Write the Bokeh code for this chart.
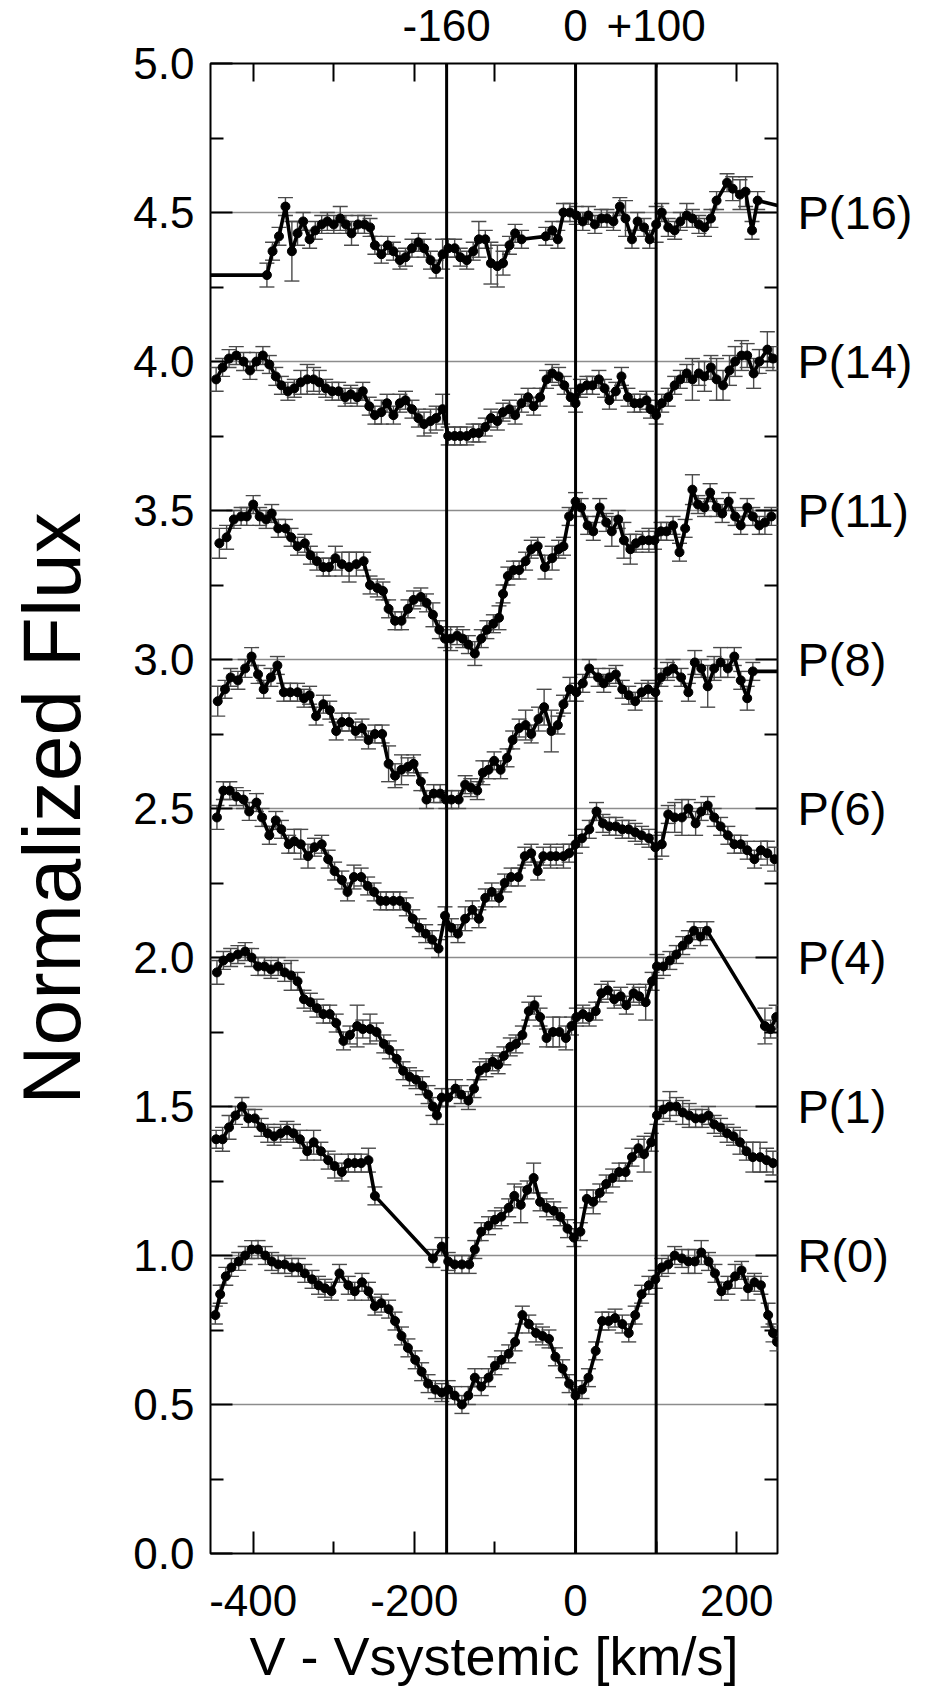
from bokeh.plotting import figure
from bokeh.models import (ColumnDataSource, Whisker, TeeHead, Span, LinearAxis,
                          FixedTicker, PrintfTickFormatter, Grid, Range1d)
from bokeh.embed import file_html
from bokeh.resources import INLINE

FONT = "Liberation Sans"

# ---------------- data ----------------
x_ticks_major = [-400, -200, 0, 200]
x_tick_labels = ["-400", "-200", "0", "200"]
x_ticks_minor = [-300, -100, 100]
top_minor_ticks = [-400, -300, -200, -100, 200]
y_ticks_major = [0.0, 0.5, 1.0, 1.5, 2.0, 2.5, 3.0, 3.5, 4.0, 4.5, 5.0]
y_ticks_minor = [0.25, 0.75, 1.25, 1.75, 2.25, 2.75, 3.25, 3.75, 4.25, 4.75]
grid_levels = [0.5, 1.0, 1.5, 2.0, 2.5, 3.0, 3.5, 4.0, 4.5]
marker_velocities = [-160, 0, 100]
marker_texts = ["-160", "0", "+100"]
line_names = ["P(16)", "P(14)", "P(11)", "P(8)", "P(6)", "P(4)", "P(1)", "R(0)"]
line_levels = [4.5, 4.0, 3.5, 3.0, 2.5, 2.0, 1.5, 1.0]
right_minor_ticks = [0.25, 0.5, 0.75, 1.25, 1.75, 2.25, 2.75, 3.25, 3.75, 4.25, 4.75]

p16_v = [-470, -383, -376, -368, -360, -352, -345, -338, -330, -323,
         -315, -308, -300, -292, -285, -278, -270, -262, -255, -249,
         -241, -233, -226, -218, -211, -203, -195, -188, -180, -173,
         -165, -158, -150, -143, -135, -127, -120, -112, -105, -97,
         -90, -82, -75, -67, -37, -29, -22, -15, -7, 1,
         9, 16, 24, 32, 39, 47, 55, 62, 70, 77,
         85, 92, 100, 107, 115, 123, 130, 138, 145, 153,
         160, 168, 175, 188, 195, 204, 211, 219, 226, 270]
p16_f = [4.29, 4.29, 4.37, 4.42, 4.52, 4.37, 4.43, 4.47, 4.41, 4.44,
         4.46, 4.47, 4.46, 4.48, 4.46, 4.43, 4.46, 4.46, 4.45, 4.39,
         4.36, 4.39, 4.37, 4.34, 4.35, 4.38, 4.40, 4.38, 4.34, 4.31,
         4.36, 4.38, 4.38, 4.35, 4.34, 4.37, 4.41, 4.41, 4.33, 4.32,
         4.33, 4.39, 4.43, 4.41, 4.42, 4.44, 4.41, 4.50, 4.50, 4.49,
         4.47, 4.49, 4.46, 4.48, 4.48, 4.47, 4.52, 4.48, 4.41, 4.47,
         4.45, 4.41, 4.46, 4.50, 4.45, 4.44, 4.47, 4.49, 4.48, 4.46,
         4.45, 4.48, 4.54, 4.60, 4.58, 4.56, 4.57, 4.44, 4.54, 4.51]
p16_e = [0.04, 0.04, 0.03, 0.03, 0.03, 0.10, 0.04, 0.03, 0.03, 0.03,
         0.03, 0.03, 0.03, 0.04, 0.03, 0.04, 0.03, 0.03, 0.03, 0.03,
         0.03, 0.03, 0.03, 0.03, 0.03, 0.03, 0.03, 0.03, 0.03, 0.03,
         0.05, 0.03, 0.03, 0.03, 0.03, 0.03, 0.06, 0.03, 0.07, 0.07,
         0.04, 0.03, 0.03, 0.03, 0.03, 0.03, 0.03, 0.03, 0.03, 0.03,
         0.03, 0.03, 0.03, 0.03, 0.03, 0.03, 0.03, 0.06, 0.03, 0.03,
         0.03, 0.03, 0.06, 0.03, 0.03, 0.03, 0.03, 0.04, 0.03, 0.03,
         0.03, 0.03, 0.03, 0.03, 0.04, 0.05, 0.05, 0.03, 0.03, 0.03]

p14_v = [-446, -438, -430, -421, -412, -404, -396, -388, -380, -372,
         -365, -357, -349, -341, -333, -325, -318, -310, -302, -294,
         -286, -279, -271, -264, -256, -249, -241, -234, -226, -218,
         -211, -203, -195, -188, -180, -173, -165, -158, -150, -143,
         -135, -127, -120, -112, -105, -97, -90, -82, -75, -67,
         -59, -52, -44, -36, -29, -21, -14, -6, 0, 6,
         14, 21, 29, 36, 42, 50, 57, 65, 73, 80,
         88, 93, 100, 107, 115, 123, 130, 138, 145, 153,
         160, 168, 175, 183, 191, 198, 206, 213, 221, 228,
         238, 245]
p14_f = [3.94, 3.98, 4.01, 4.02, 4.00, 3.97, 4.00, 4.02, 3.99, 3.95,
         3.92, 3.90, 3.91, 3.93, 3.94, 3.94, 3.93, 3.91, 3.90, 3.90,
         3.88, 3.89, 3.88, 3.90, 3.85, 3.82, 3.83, 3.86, 3.82, 3.86,
         3.87, 3.84, 3.81, 3.79, 3.80, 3.81, 3.84, 3.75, 3.75, 3.75,
         3.75, 3.76, 3.76, 3.78, 3.81, 3.80, 3.83, 3.84, 3.82, 3.86,
         3.88, 3.85, 3.88, 3.94, 3.96, 3.95, 3.92, 3.88, 3.86, 3.91,
         3.92, 3.92, 3.94, 3.91, 3.87, 3.90, 3.95, 3.88, 3.86, 3.86,
         3.87, 3.84, 3.82, 3.86, 3.88, 3.92, 3.94, 3.96, 3.94, 3.96,
         3.95, 3.98, 3.94, 3.92, 3.97, 4.00, 4.02, 4.02, 3.96, 4.00,
         4.04, 4.01]
p14_e = [0.04, 0.03, 0.03, 0.03, 0.03, 0.03, 0.03, 0.03, 0.03, 0.03,
         0.03, 0.03, 0.03, 0.04, 0.05, 0.04, 0.04, 0.03, 0.03, 0.03,
         0.03, 0.03, 0.03, 0.03, 0.03, 0.03, 0.04, 0.03, 0.03, 0.03,
         0.03, 0.03, 0.03, 0.04, 0.04, 0.04, 0.05, 0.03, 0.03, 0.03,
         0.03, 0.03, 0.03, 0.03, 0.03, 0.03, 0.03, 0.03, 0.03, 0.03,
         0.03, 0.03, 0.03, 0.03, 0.03, 0.03, 0.03, 0.03, 0.03, 0.03,
         0.03, 0.03, 0.03, 0.03, 0.03, 0.03, 0.03, 0.03, 0.03, 0.03,
         0.03, 0.03, 0.03, 0.03, 0.03, 0.03, 0.03, 0.03, 0.07, 0.04,
         0.05, 0.04, 0.07, 0.05, 0.05, 0.05, 0.05, 0.04, 0.05, 0.04,
         0.06, 0.04]

p11_v = [-442, -433, -424, -415, -408, -400, -392, -384, -377, -369,
         -360, -353, -345, -336, -329, -321, -313, -306, -298, -290,
         -281, -272, -263, -255, -246, -239, -232, -224, -216, -208,
         -201, -192, -185, -177, -169, -162, -155, -147, -140, -133,
         -125, -117, -110, -102, -95, -90, -84, -77, -70, -62,
         -55, -47, -38, -29, -21, -15, -8, 0, 7, 15,
         22, 30, 38, 45, 53, 60, 68, 75, 83, 91,
         98, 106, 113, 121, 129, 136, 145, 152, 160, 167,
         175, 182, 190, 198, 205, 213, 220, 228, 235, 243]
p11_f = [3.39, 3.41, 3.47, 3.48, 3.48, 3.52, 3.48, 3.47, 3.49, 3.44,
         3.44, 3.41, 3.38, 3.39, 3.35, 3.33, 3.31, 3.31, 3.34, 3.32,
         3.31, 3.32, 3.33, 3.25, 3.24, 3.23, 3.17, 3.13, 3.13, 3.17,
         3.20, 3.21, 3.19, 3.15, 3.10, 3.07, 3.07, 3.08, 3.07, 3.05,
         3.02, 3.07, 3.10, 3.12, 3.14, 3.22, 3.28, 3.30, 3.30, 3.33,
         3.37, 3.38, 3.31, 3.34, 3.37, 3.38, 3.48, 3.53, 3.51, 3.45,
         3.43, 3.51, 3.46, 3.43, 3.47, 3.40, 3.37, 3.39, 3.40, 3.40,
         3.40, 3.43, 3.43, 3.45, 3.36, 3.44, 3.57, 3.52, 3.51, 3.56,
         3.51, 3.49, 3.53, 3.48, 3.45, 3.51, 3.48, 3.45, 3.46, 3.48]
p11_e = [0.05, 0.04, 0.03, 0.03, 0.03, 0.03, 0.03, 0.03, 0.03, 0.03,
         0.03, 0.03, 0.03, 0.03, 0.03, 0.03, 0.03, 0.03, 0.04, 0.04,
         0.05, 0.04, 0.03, 0.03, 0.03, 0.03, 0.03, 0.03, 0.03, 0.03,
         0.03, 0.03, 0.03, 0.04, 0.03, 0.03, 0.04, 0.03, 0.03, 0.03,
         0.04, 0.03, 0.03, 0.03, 0.04, 0.03, 0.03, 0.03, 0.03, 0.03,
         0.03, 0.03, 0.04, 0.04, 0.03, 0.03, 0.03, 0.03, 0.03, 0.03,
         0.03, 0.03, 0.03, 0.05, 0.03, 0.06, 0.05, 0.03, 0.03, 0.04,
         0.03, 0.03, 0.03, 0.03, 0.03, 0.03, 0.05, 0.03, 0.03, 0.03,
         0.03, 0.03, 0.03, 0.03, 0.03, 0.03, 0.03, 0.03, 0.04, 0.03]

p8_v = [-444, -435, -428, -419, -410, -402, -394, -387, -378, -370,
        -362, -354, -345, -337, -330, -322, -313, -305, -297, -290,
        -281, -273, -265, -257, -249, -240, -232, -224, -216, -208,
        -201, -192, -185, -176, -168, -161, -154, -145, -137, -130,
        -122, -115, -108, -101, -93, -85, -78, -70, -62, -55,
        -46, -39, -30, -22, -15, -7, 1, 9, 17, 28,
        35, 42, 50, 58, 66, 74, 82, 90, 99, 106,
        114, 121, 131, 140, 148, 156, 164, 172, 180, 189,
        197, 205, 213, 220, 265]
p8_f = [2.86, 2.90, 2.94, 2.93, 2.97, 3.01, 2.95, 2.90, 2.94, 2.98,
        2.89, 2.89, 2.89, 2.87, 2.88, 2.81, 2.85, 2.83, 2.76, 2.79,
        2.79, 2.76, 2.77, 2.73, 2.75, 2.75, 2.65, 2.61, 2.63, 2.64,
        2.65, 2.59, 2.53, 2.55, 2.55, 2.53, 2.53, 2.53, 2.58, 2.57,
        2.56, 2.62, 2.63, 2.66, 2.63, 2.67, 2.73, 2.77, 2.78, 2.75,
        2.80, 2.84, 2.76, 2.78, 2.85, 2.90, 2.89, 2.92, 2.97, 2.94,
        2.92, 2.94, 2.95, 2.90, 2.88, 2.86, 2.89, 2.90, 2.89, 2.94,
        2.96, 2.97, 2.94, 2.89, 2.99, 2.97, 2.91, 2.97, 2.99, 2.97,
        3.01, 2.93, 2.87, 2.96, 2.96]
p8_e = [0.05, 0.03, 0.03, 0.03, 0.03, 0.03, 0.03, 0.03, 0.03, 0.03,
        0.03, 0.03, 0.03, 0.03, 0.03, 0.03, 0.03, 0.03, 0.03, 0.03,
        0.03, 0.03, 0.03, 0.03, 0.03, 0.03, 0.06, 0.04, 0.05, 0.03,
        0.03, 0.03, 0.03, 0.03, 0.03, 0.03, 0.03, 0.03, 0.03, 0.03,
        0.03, 0.04, 0.03, 0.03, 0.03, 0.03, 0.03, 0.03, 0.05, 0.03,
        0.04, 0.06, 0.07, 0.03, 0.03, 0.04, 0.03, 0.03, 0.03, 0.03,
        0.03, 0.03, 0.03, 0.03, 0.03, 0.03, 0.03, 0.03, 0.03, 0.03,
        0.03, 0.03, 0.03, 0.03, 0.04, 0.03, 0.07, 0.04, 0.05, 0.03,
        0.03, 0.03, 0.04, 0.03, 0.03]

p6_v = [-445, -437, -429, -421, -412, -405, -396, -389, -380, -372,
        -365, -356, -349, -341, -332, -324, -315, -307, -299, -290,
        -283, -275, -266, -258, -250, -242, -235, -226, -218, -210,
        -202, -194, -186, -178, -170, -162, -154, -146, -137, -128,
        -120, -112, -104, -95, -88, -80, -71, -63, -55, -47,
        -40, -31, -24, -15, -8, 0, 8, 17, 26, 34,
        42, 50, 58, 66, 74, 82, 91, 99, 107, 115,
        123, 132, 140, 149, 156, 164, 172, 180, 189, 197,
        205, 213, 222, 230, 238, 247]
p6_f = [2.47, 2.56, 2.56, 2.54, 2.53, 2.49, 2.52, 2.47, 2.41, 2.46,
        2.43, 2.38, 2.39, 2.38, 2.34, 2.37, 2.38, 2.33, 2.29, 2.26,
        2.22, 2.27, 2.27, 2.24, 2.22, 2.19, 2.19, 2.19, 2.19, 2.17,
        2.13, 2.10, 2.08, 2.06, 2.03, 2.14, 2.10, 2.08, 2.13, 2.16,
        2.13, 2.20, 2.22, 2.20, 2.25, 2.27, 2.27, 2.34, 2.35, 2.29,
        2.34, 2.34, 2.34, 2.34, 2.35, 2.38, 2.40, 2.43, 2.49, 2.45,
        2.44, 2.44, 2.43, 2.43, 2.42, 2.41, 2.40, 2.37, 2.38, 2.48,
        2.47, 2.47, 2.50, 2.45, 2.49, 2.51, 2.47, 2.44, 2.41, 2.38,
        2.38, 2.36, 2.33, 2.36, 2.35, 2.33]
p6_e = [0.04, 0.03, 0.03, 0.03, 0.03, 0.03, 0.03, 0.03, 0.03, 0.03,
        0.03, 0.03, 0.04, 0.05, 0.04, 0.03, 0.03, 0.03, 0.03, 0.03,
        0.03, 0.04, 0.03, 0.03, 0.03, 0.03, 0.03, 0.03, 0.03, 0.03,
        0.03, 0.03, 0.03, 0.03, 0.03, 0.03, 0.03, 0.03, 0.04, 0.03,
        0.03, 0.03, 0.03, 0.03, 0.03, 0.03, 0.03, 0.03, 0.03, 0.03,
        0.03, 0.04, 0.03, 0.04, 0.03, 0.03, 0.03, 0.03, 0.03, 0.03,
        0.03, 0.03, 0.03, 0.03, 0.03, 0.03, 0.03, 0.04, 0.04, 0.03,
        0.05, 0.06, 0.03, 0.04, 0.03, 0.03, 0.03, 0.03, 0.03, 0.03,
        0.03, 0.03, 0.03, 0.03, 0.04, 0.04]

p4_v = [-445, -437, -428, -419, -410, -402, -394, -386, -378, -369,
        -361, -353, -345, -337, -329, -321, -313, -305, -297, -288,
        -280, -271, -264, -255, -247, -238, -231, -222, -214, -206,
        -198, -190, -183, -177, -172, -166, -158, -149, -142, -133,
        -126, -119, -111, -103, -96, -89, -81, -74, -66, -58,
        -51, -44, -36, -28, -20, -12, -5, 1, 9, 17,
        25, 32, 40, 48, 56, 63, 72, 79, 87, 95,
        101, 109, 117, 125, 133, 140, 147, 155, 163, 235,
        242, 249]
p4_f = [1.95, 1.99, 2.00, 2.01, 2.02, 2.00, 1.97, 1.97, 1.96, 1.97,
        1.95, 1.94, 1.92, 1.86, 1.85, 1.83, 1.81, 1.81, 1.78, 1.72,
        1.74, 1.77, 1.76, 1.76, 1.75, 1.71, 1.69, 1.66, 1.62, 1.60,
        1.59, 1.57, 1.54, 1.50, 1.47, 1.53, 1.53, 1.56, 1.54, 1.52,
        1.56, 1.62, 1.63, 1.65, 1.64, 1.67, 1.70, 1.71, 1.74, 1.82,
        1.84, 1.80, 1.73, 1.75, 1.75, 1.73, 1.77, 1.80, 1.81, 1.80,
        1.82, 1.88, 1.89, 1.86, 1.87, 1.84, 1.88, 1.87, 1.85, 1.92,
        1.97, 1.97, 1.99, 2.01, 2.04, 2.06, 2.09, 2.07, 2.09, 1.77,
        1.76, 1.80]
p4_e = [0.04, 0.03, 0.03, 0.03, 0.03, 0.03, 0.03, 0.03, 0.03, 0.03,
        0.03, 0.05, 0.03, 0.03, 0.03, 0.03, 0.03, 0.03, 0.03, 0.03,
        0.03, 0.07, 0.03, 0.05, 0.03, 0.03, 0.03, 0.03, 0.03, 0.03,
        0.03, 0.03, 0.03, 0.03, 0.03, 0.03, 0.03, 0.03, 0.03, 0.03,
        0.03, 0.03, 0.03, 0.03, 0.03, 0.03, 0.03, 0.03, 0.03, 0.03,
        0.03, 0.03, 0.03, 0.05, 0.05, 0.04, 0.03, 0.03, 0.03, 0.03,
        0.03, 0.03, 0.03, 0.03, 0.03, 0.03, 0.03, 0.03, 0.06, 0.03,
        0.04, 0.03, 0.03, 0.03, 0.03, 0.03, 0.03, 0.03, 0.03, 0.06,
        0.03, 0.04]

p1_v = [-446, -438, -430, -422, -414, -406, -398, -390, -382, -374,
        -366, -358, -350, -342, -333, -325, -316, -307, -299, -290,
        -282, -274, -266, -257, -249, -177, -166, -158, -150, -141,
        -132, -125, -117, -108, -100, -92, -83, -76, -68, -60,
        -52, -44, -36, -27, -19, -10, -2, 6, 14, 22,
        30, 38, 46, 54, 62, 70, 78, 85, 94, 101,
        109, 117, 125, 133, 141, 149, 157, 165, 172, 180,
        188, 196, 204, 212, 220, 229, 237, 245]
p1_f = [1.39, 1.39, 1.43, 1.47, 1.50, 1.46, 1.46, 1.43, 1.41, 1.40,
        1.41, 1.42, 1.41, 1.39, 1.35, 1.38, 1.35, 1.32, 1.30, 1.28,
        1.31, 1.31, 1.31, 1.32, 1.20, 0.99, 1.03, 0.98, 0.97, 0.97,
        0.97, 1.02, 1.08, 1.10, 1.12, 1.13, 1.16, 1.20, 1.17, 1.22,
        1.26, 1.18, 1.16, 1.15, 1.13, 1.09, 1.06, 1.08, 1.19, 1.18,
        1.21, 1.24, 1.26, 1.28, 1.28, 1.33, 1.36, 1.34, 1.38, 1.47,
        1.49, 1.50, 1.50, 1.48, 1.47, 1.46, 1.46, 1.47, 1.44, 1.43,
        1.41, 1.40, 1.38, 1.35, 1.33, 1.33, 1.32, 1.31]
p1_e = [0.03, 0.04, 0.04, 0.03, 0.03, 0.03, 0.03, 0.03, 0.03, 0.03,
        0.03, 0.03, 0.03, 0.03, 0.03, 0.04, 0.03, 0.03, 0.04, 0.03,
        0.03, 0.03, 0.03, 0.04, 0.03, 0.03, 0.03, 0.03, 0.03, 0.03,
        0.03, 0.03, 0.03, 0.03, 0.03, 0.03, 0.03, 0.04, 0.06, 0.03,
        0.05, 0.03, 0.03, 0.03, 0.03, 0.03, 0.03, 0.03, 0.03, 0.04,
        0.03, 0.03, 0.03, 0.03, 0.03, 0.03, 0.03, 0.06, 0.03, 0.03,
        0.03, 0.05, 0.03, 0.04, 0.04, 0.03, 0.03, 0.03, 0.03, 0.03,
        0.03, 0.03, 0.04, 0.03, 0.05, 0.05, 0.04, 0.04]

r0_v = [-447, -441, -434, -427, -418, -410, -402, -394, -385, -377,
        -369, -361, -352, -344, -336, -327, -319, -311, -303, -293,
        -282, -274, -265, -257, -249, -241, -232, -224, -216, -208,
        -199, -191, -183, -174, -166, -158, -150, -141, -133, -125,
        -117, -108, -100, -92, -83, -75, -66, -58, -49, -41,
        -33, -25, -16, -8, 0, 8, 16, 25, 33, 41,
        49, 58, 66, 74, 82, 91, 99, 107, 115, 123,
        132, 140, 148, 156, 165, 173, 181, 189, 198, 206,
        214, 222, 230, 239, 245, 250]
r0_f = [0.80, 0.87, 0.93, 0.96, 0.98, 1.00, 1.02, 1.02, 1.00, 0.98,
        0.97, 0.97, 0.96, 0.96, 0.94, 0.92, 0.90, 0.89, 0.88, 0.94,
        0.90, 0.88, 0.91, 0.88, 0.83, 0.84, 0.82, 0.78, 0.73, 0.69,
        0.65, 0.61, 0.57, 0.55, 0.54, 0.55, 0.53, 0.50, 0.53, 0.59,
        0.56, 0.59, 0.63, 0.65, 0.67, 0.71, 0.80, 0.77, 0.74, 0.73,
        0.72, 0.66, 0.62, 0.57, 0.53, 0.55, 0.59, 0.68, 0.78, 0.78,
        0.79, 0.77, 0.74, 0.80, 0.87, 0.90, 0.92, 0.96, 0.97, 1.00,
        0.99, 0.98, 0.98, 1.01, 0.98, 0.94, 0.88, 0.90, 0.93, 0.95,
        0.89, 0.91, 0.90, 0.80, 0.74, 0.71]
r0_e = [0.03, 0.03, 0.03, 0.03, 0.03, 0.03, 0.03, 0.03, 0.03, 0.03,
        0.03, 0.03, 0.03, 0.03, 0.03, 0.03, 0.03, 0.03, 0.03, 0.03,
        0.03, 0.03, 0.03, 0.03, 0.03, 0.03, 0.03, 0.03, 0.03, 0.03,
        0.03, 0.03, 0.03, 0.03, 0.03, 0.03, 0.03, 0.03, 0.03, 0.03,
        0.03, 0.03, 0.03, 0.03, 0.03, 0.03, 0.03, 0.03, 0.03, 0.03,
        0.03, 0.03, 0.03, 0.03, 0.03, 0.03, 0.03, 0.03, 0.03, 0.03,
        0.03, 0.03, 0.03, 0.03, 0.03, 0.03, 0.03, 0.03, 0.03, 0.03,
        0.03, 0.04, 0.04, 0.04, 0.03, 0.03, 0.03, 0.03, 0.04, 0.03,
        0.04, 0.03, 0.03, 0.04, 0.03, 0.03]

spectra = [(p16_v, p16_f, p16_e), (p14_v, p14_f, p14_e), (p11_v, p11_f, p11_e),
           (p8_v, p8_f, p8_e), (p6_v, p6_f, p6_e), (p4_v, p4_f, p4_e),
           (p1_v, p1_f, p1_e), (r0_v, r0_f, r0_e)]

# ---------------- figure ----------------
X0, X1 = -453, 250.6
p = figure(width=917, height=1693, x_range=Range1d(X0, X1), y_range=Range1d(0, 5),
           x_axis_type=None, y_axis_type=None,
           output_backend="svg", toolbar_location=None,
           min_border_left=210, min_border_right=140, min_border_top=63, min_border_bottom=140)
p.outline_line_color = "black"
p.outline_line_width = 2
p.background_fill_color = "white"
p.border_fill_color = "white"

p.add_layout(Grid(dimension=1, ticker=FixedTicker(ticks=grid_levels),
                  grid_line_color="#8c8c8c", grid_line_width=1.3))


def style_axis(ax, major_len, minor_len, font_size, standoff):
    ax.axis_line_color = None
    ax.major_tick_in = major_len
    ax.major_tick_out = 0
    ax.minor_tick_in = minor_len
    ax.minor_tick_out = 0
    ax.major_tick_line_color = "black"
    ax.minor_tick_line_color = "black"
    ax.major_tick_line_width = 2
    ax.minor_tick_line_width = 2
    ax.major_label_text_font = FONT
    ax.major_label_text_font_size = font_size
    ax.major_label_text_color = "black"
    ax.major_label_standoff = standoff
    ax.axis_label_text_font = FONT
    ax.axis_label_text_font_style = "normal"
    ax.axis_label_text_color = "black"


# bottom axis: ticks + numbers + axis title
xb = LinearAxis(ticker=FixedTicker(ticks=x_ticks_major, minor_ticks=x_ticks_minor),
                major_label_overrides=dict(zip(x_ticks_major, x_tick_labels)))
style_axis(xb, 22, 12, "44px", 31)
xb.axis_label = "V - Vsystemic [km/s]"
xb.axis_label_text_font_size = "54px"
xb.axis_label_standoff = 7
p.add_layout(xb, "below")

# top axis: velocity marks as labels, plain ticks as minor ticks
xt = LinearAxis(ticker=FixedTicker(ticks=marker_velocities, minor_ticks=top_minor_ticks),
                major_label_overrides=dict(zip(marker_velocities, marker_texts)))
style_axis(xt, 4, 18, "44px", 23)
p.add_layout(xt, "above")

# left axis
yl = LinearAxis(ticker=FixedTicker(ticks=y_ticks_major, minor_ticks=y_ticks_minor),
                formatter=PrintfTickFormatter(format="%.1f"))
style_axis(yl, 22, 13, "44px", 16)
yl.axis_label = "Normalized Flux"
yl.axis_label_text_font_size = "82px"
yl.axis_label_standoff = 33
p.add_layout(yl, "left")

# right axis: line identifications
yr = LinearAxis(ticker=FixedTicker(ticks=line_levels, minor_ticks=right_minor_ticks),
                major_label_overrides=dict(zip(line_levels, line_names)))
style_axis(yr, 22, 13, "47px", 20)
p.add_layout(yr, "right")

for v in marker_velocities:
    p.add_layout(Span(location=v, dimension="height", line_color="black", line_width=3))

for xs, fs, es in spectra:
    src = ColumnDataSource(dict(x=xs, y=fs))
    inside = [i for i, v in enumerate(xs) if X0 <= v <= X1]
    esrc = ColumnDataSource(dict(
        x=[xs[i] for i in inside],
        lo=[fs[i] - es[i] for i in inside],
        hi=[fs[i] + es[i] for i in inside]))
    p.add_layout(Whisker(source=esrc, base="x", lower="lo", upper="hi", dimension="height",
                         line_color="#4a4a4a", line_width=1.4,
                         upper_head=TeeHead(size=15, line_color="#4a4a4a", line_width=1.4),
                         lower_head=TeeHead(size=15, line_color="#4a4a4a", line_width=1.4)))
    p.line("x", "y", source=src, line_color="black", line_width=3.6)
    p.scatter("x", "y", source=src, size=9, fill_color="black", line_color="black")

open("out.html", "w").write(file_html(p, INLINE))
